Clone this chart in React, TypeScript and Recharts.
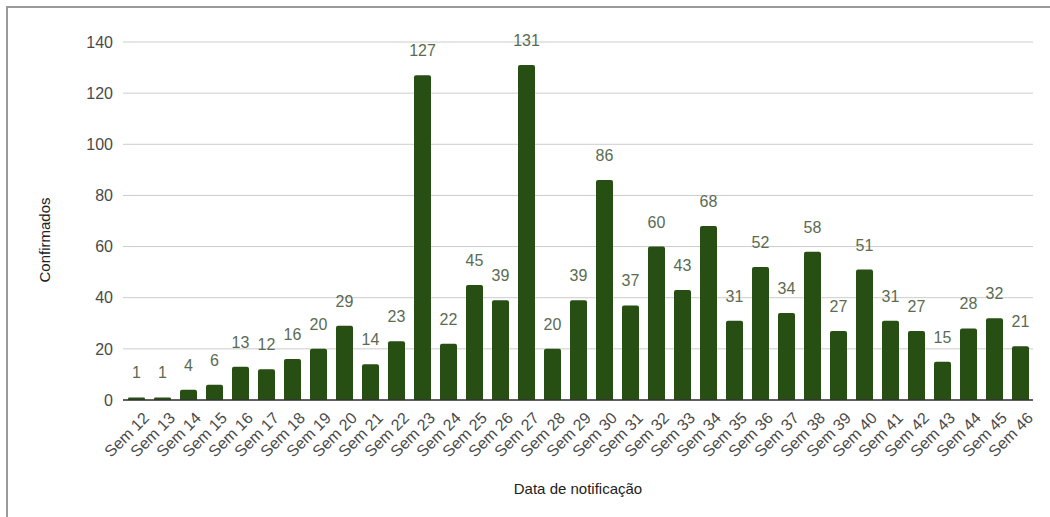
import { BarChart, Bar, XAxis, YAxis, CartesianGrid, LabelList } from 'recharts';

const weeks = [
  'Sem 12', 'Sem 13', 'Sem 14', 'Sem 15', 'Sem 16', 'Sem 17', 'Sem 18', 'Sem 19', 'Sem 20',
  'Sem 21', 'Sem 22', 'Sem 23', 'Sem 24', 'Sem 25', 'Sem 26', 'Sem 27', 'Sem 28', 'Sem 29',
  'Sem 30', 'Sem 31', 'Sem 32', 'Sem 33', 'Sem 34', 'Sem 35', 'Sem 36', 'Sem 37', 'Sem 38',
  'Sem 39', 'Sem 40', 'Sem 41', 'Sem 42', 'Sem 43', 'Sem 44', 'Sem 45', 'Sem 46',
];

const confirmed = [
  1, 1, 4, 6, 13, 12, 16, 20, 29, 14, 23, 127, 22, 45, 39, 131, 20, 39,
  86, 37, 60, 43, 68, 31, 52, 34, 58, 27, 51, 31, 27, 15, 28, 32, 21,
];

const yTicks = [0, 20, 40, 60, 80, 100, 120, 140];

const data = weeks.map((w, i) => ({ week: w, value: confirmed[i] }));

const font = 'Arial, "Liberation Sans", sans-serif';

function WeekTick(props: any) {
  const { x, y, payload } = props;
  return (
    <g transform={`translate(${x + 7},${y + 4})`}>
      <text x={0} y={0} dy={10} textAnchor="end" transform="rotate(-45)" fill="#4a4a4a" fontSize={16} fontFamily={font}>
        {payload.value}
      </text>
    </g>
  );
}

export default function App() {
  return (
    <div style={{ position: 'fixed', left: 0, top: 0, width: 1050, height: 517, background: '#fff' }}>
      <div style={{ position: 'absolute', left: 6, top: 6, width: 1044, height: 511, boxSizing: 'border-box', borderTop: '2px solid #9a9a9a', borderLeft: '2px solid #9a9a9a' }} />
      <div style={{ position: 'absolute', left: 0, top: 0 }}>
        <BarChart width={1050} height={517} data={data} margin={{ top: 42, right: 17, bottom: 47, left: 73 }} barSize={17}>
          <CartesianGrid vertical={false} stroke="#cccccc" />
          <XAxis
            dataKey="week"
            interval={0}
            height={70}
            tick={<WeekTick />}
            tickLine={false}
            axisLine={{ stroke: '#333', strokeWidth: 1.5 }}
          />
          <YAxis
            domain={[0, 140]}
            ticks={yTicks}
            width={50}
            axisLine={false}
            tickLine={false}
            tickSize={0}
            tickMargin={10}
            tick={{ fill: '#4a4a4a', fontSize: 16, fontFamily: font }}
          />
          <Bar dataKey="value" fill="#274e13" radius={[2, 2, 0, 0]} isAnimationActive={false}>
            <LabelList dataKey="value" position="top" offset={19} fill="#5b6b52" fontSize={16} fontFamily={font} />
          </Bar>
          <text x={46} y={240} transform="rotate(-90 46 240)" textAnchor="middle" dominantBaseline="middle" fill="#222" fontSize={15} fontFamily={font}>
            Confirmados
          </text>
          <text x={578} y={490} textAnchor="middle" dominantBaseline="middle" fill="#222" fontSize={15} fontFamily={font}>
            Data de notificação
          </text>
        </BarChart>
      </div>
    </div>
  );
}
